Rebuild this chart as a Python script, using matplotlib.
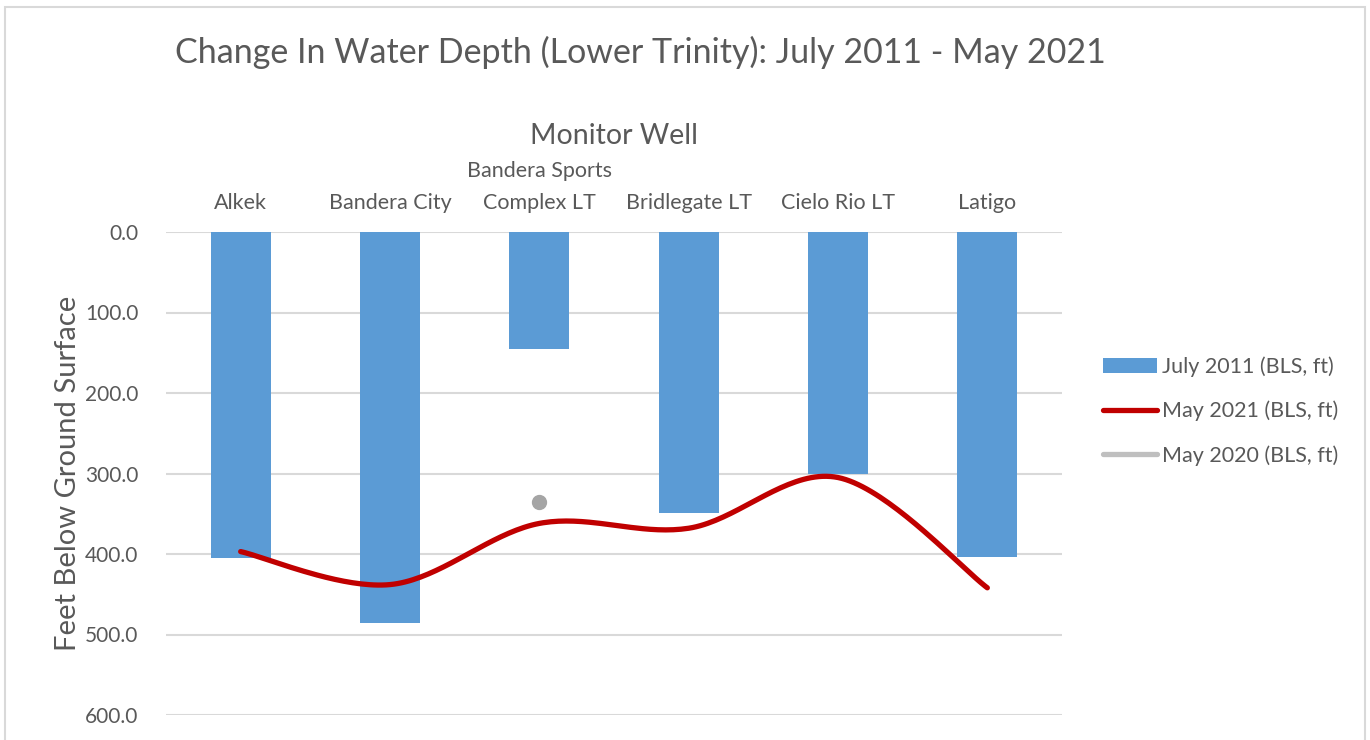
import numpy as np
import matplotlib
matplotlib.use("Agg")
import matplotlib.pyplot as plt
from matplotlib.lines import Line2D
from matplotlib.patches import Patch, Rectangle

plt.rcParams["font.family"] = ["Lato", "DejaVu Sans"]

wells = ["Alkek", "Bandera City", "Bandera Sports\nComplex LT",
         "Bridlegate LT", "Cielo Rio LT", "Latigo"]
july_2011 = [405, 486, 145, 349, 300, 404]
may_2021 = [397, 438, 362, 368, 305, 442]
may_2020 = [None, None, 335, None, None, None]

BLUE = "#5B9BD5"
RED = "#C00000"
GRAY = "#A5A5A5"
TEXT = "#595959"


def smooth(xs, ys, n=40):
    """Excel-style smoothed line (Catmull-Rom through the points)."""
    xs = np.asarray(xs, float)
    ys = np.asarray(ys, float)
    px = np.concatenate([[xs[0]], xs, [xs[-1]]])
    py = np.concatenate([[ys[0]], ys, [ys[-1]]])
    out_x, out_y = [], []
    for i in range(1, len(px) - 2):
        t = np.linspace(0, 1, n)
        p0, p1, p2, p3 = [np.array([px[j], py[j]]) for j in range(i - 1, i + 3)]
        c1 = p1 + (p2 - p0) / 6
        c2 = p2 - (p3 - p1) / 6
        b = ((1 - t) ** 3)[:, None] * p1 + (3 * (1 - t) ** 2 * t)[:, None] * c1 \
            + (3 * (1 - t) * t ** 2)[:, None] * c2 + (t ** 3)[:, None] * p2
        out_x.extend(b[:, 0])
        out_y.extend(b[:, 1])
    return out_x, out_y


fig = plt.figure(figsize=(13.7, 7.4), dpi=100)
fig.patches.append(Rectangle((5 / 1370, -0.1), 1360 / 1370, 1.1 - 7 / 740,
                             transform=fig.transFigure, fill=False,
                             edgecolor="#D9D9D9", linewidth=1.5))
ax = fig.add_axes([166 / 1370, 25 / 740, 896 / 1370, 483 / 740])

x = np.arange(len(wells))
ax.bar(x, july_2011, width=0.4, color=BLUE, zorder=2)
sx, sy = smooth(x, may_2021)
ax.plot(sx, sy, color=RED, linewidth=3.8, solid_capstyle="round", zorder=3)
for xi, v in zip(x, may_2020):
    if v is not None:
        ax.plot(xi, v, "o", color=GRAY, markersize=10, zorder=3)

ax.set_xlim(-0.5, len(wells) - 0.5)
ax.set_ylim(600, 0)
ax.set_yticks(np.arange(0, 601, 100))
ax.set_yticklabels([f"{v:.1f}" for v in range(0, 601, 100)])
ax.yaxis.grid(True, color="#D9D9D9", linewidth=1.5, zorder=0)
ax.set_axisbelow(True)
for s in ax.spines.values():
    s.set_visible(False)
ax.tick_params(length=0, colors=TEXT, labelsize=15)
ax.tick_params(axis="y", pad=20)

ax.xaxis.tick_top()
ax.set_xticks(x)
ax.set_xticklabels(wells, fontsize=15.5, color=TEXT, linespacing=1.75)
ax.tick_params(axis="x", pad=14)
ax.xaxis.set_label_position("top")
ax.set_xlabel("Monitor Well", fontsize=20.5, color=TEXT, labelpad=12)
ax.set_ylabel("Feet Below Ground Surface", fontsize=21, color=TEXT, labelpad=3)

fig.text(640 / 1370, 1 - 52 / 740,
         "Change In Water Depth (Lower Trinity): July 2011 - May 2021",
         ha="center", va="center", fontsize=24.5, color=TEXT)

handles = [Patch(facecolor=BLUE, edgecolor="none"),
           Line2D([0], [0], color=RED, linewidth=3.8, solid_capstyle="round"),
           Line2D([0], [0], color="#BFBFBF", linewidth=3.8, solid_capstyle="round")]
labels = ["July 2011 (BLS, ft)", "May 2021 (BLS, ft)", "May 2020 (BLS, ft)"]
fig.legend(handles, labels, loc="center left",
           bbox_to_anchor=(1084 / 1370, 1 - 411 / 740), frameon=False,
           fontsize=15.5, labelcolor=TEXT, handlelength=2.5,
           handletextpad=0.2, labelspacing=1.1)

fig.savefig("out.png", dpi=100)
